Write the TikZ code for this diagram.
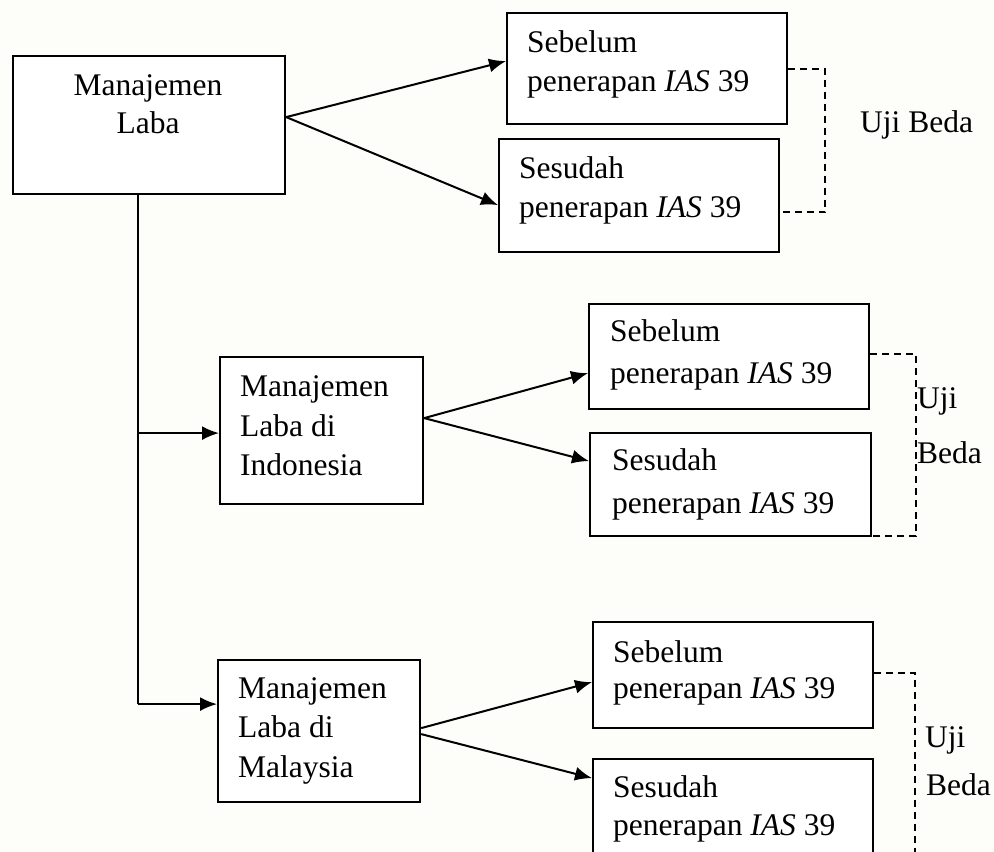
\documentclass[tikz,border=0pt]{standalone}
\usepackage{fontspec}
\setmainfont{Liberation Serif}
\usetikzlibrary{arrows.meta,calc}
\definecolor{bgcol}{RGB}{253,253,249}
\tikzset{
  box/.style={draw=black, line width=2.2pt, rectangle, inner sep=0pt, fill=white},
  txt/.style={inner sep=0pt, anchor=base west, font=\fontsize{31.5}{38}\selectfont},
  arr/.style={line width=2pt, -{Latex[length=17pt,width=14pt]}},
  link/.style={line width=2pt},
  bracket/.style={line width=2pt, dash pattern=on 7pt off 5pt}
}
\begin{document}
\begin{tikzpicture}[x=1pt,y=-1pt]
\useasboundingbox (0,0) rectangle (994,852);
\fill[bgcol] (0,0) rectangle (994,852);
\clip (0,0) rectangle (994,852);

% boxes
\node[box, minimum width=272pt, minimum height=138pt, anchor=north west] (ml) at (12,55) {};
\node[box, minimum width=280pt, minimum height=111pt, anchor=north west] (s1) at (506,12) {};
\node[box, minimum width=280pt, minimum height=113pt, anchor=north west] (s2) at (498,138) {};
\node[box, minimum width=203pt, minimum height=147pt, anchor=north west] (mi) at (219,356) {};
\node[box, minimum width=280pt, minimum height=105pt, anchor=north west] (si1) at (588,303) {};
\node[box, minimum width=281pt, minimum height=103pt, anchor=north west] (si2) at (589,432) {};
\node[box, minimum width=202pt, minimum height=142pt, anchor=north west] (mm) at (217,659) {};
\node[box, minimum width=280pt, minimum height=106pt, anchor=north west] (sm1) at (592,621) {};
\node[box, minimum width=280pt, minimum height=112pt, anchor=north west] (sm2) at (592,758) {};

% texts
\node[txt, anchor=base] (ml1) at (148,95) {Manajemen};
\node[txt, anchor=base] (ml2) at (148,133) {Laba};

\node[txt] (s1a) at (527,52) {Sebelum};
\node[txt] (s1b) at (527,91) {penerapan \textit{IAS} 39};
\node[txt] (s2a) at (519,178) {Sesudah};
\node[txt] (s2b) at (519,217) {penerapan \textit{IAS} 39};
\node[txt] (ub1) at (860,132) {Uji Beda};

\node[txt] (mi1) at (240,396) {Manajemen};
\node[txt] (mi2) at (240,436) {Laba di};
\node[txt] (mi3) at (240,475) {Indonesia};
\node[txt] (si1a) at (610,341) {Sebelum};
\node[txt] (si1b) at (610,383) {penerapan \textit{IAS} 39};
\node[txt] (si2a) at (612,470) {Sesudah};
\node[txt] (si2b) at (612,513) {penerapan \textit{IAS} 39};
\node[txt] (ui1) at (917,408) {Uji};
\node[txt] (ui2) at (917,463) {Beda};

\node[txt] (mm1) at (238,698) {Manajemen};
\node[txt] (mm2) at (238,737) {Laba di};
\node[txt] (mm3) at (238,777) {Malaysia};
\node[txt] (sm1a) at (613,662) {Sebelum};
\node[txt] (sm1b) at (613,698) {penerapan \textit{IAS} 39};
\node[txt] (sm2a) at (613,797) {Sesudah};
\node[txt] (sm2b) at (613,835) {penerapan \textit{IAS} 39};
\node[txt] (um1) at (925,747) {Uji};
\node[txt] (um2) at (926,795) {Beda};

% vertical trunk
\coordinate (vt) at ([xshift=-11pt]ml.south);
\coordinate (miin) at ([yshift=-2.5pt]mi.west);
\coordinate (mmin) at ([yshift=27pt]mm.west);
\coordinate (vi) at (vt |- miin);
\coordinate (vm) at (vt |- mmin);
\draw[link] (vt) -- (vm);
\draw[arr] (vi) -- (miin);
\draw[arr] (vm) -- (mmin);

% arrows from Manajemen Laba
\draw[arr] ([yshift=8pt]ml.east) -- ([yshift=7.5pt]s1.west);
\draw[arr] ([yshift=8pt]ml.east) -- ([yshift=-9.5pt]s2.west);

% arrows from Indonesia
\draw[arr] ([yshift=12.5pt]mi.east) -- ([yshift=-16.5pt]si1.west);
\draw[arr] ([yshift=12.5pt]mi.east) -- ([yshift=23.5pt]si2.west);

% arrows from Malaysia
\draw[arr] ([yshift=3pt]mm.east) -- ([yshift=-7pt]sm1.west);
\draw[arr] ([yshift=-3pt]mm.east) -- ([yshift=37pt]sm2.west);

% dashed brackets
\draw[bracket] (s1.east) -- ++(37,0) |- ([yshift=-16.5pt]s2.east);
\draw[bracket] ([yshift=2.5pt]si1.east) -- ++(46,0) |- ([yshift=1pt]si2.south east);
\draw[bracket] ([yshift=2pt]sm1.east) -- ++(41,0) -- ++(0,200);
\end{tikzpicture}
\end{document}
